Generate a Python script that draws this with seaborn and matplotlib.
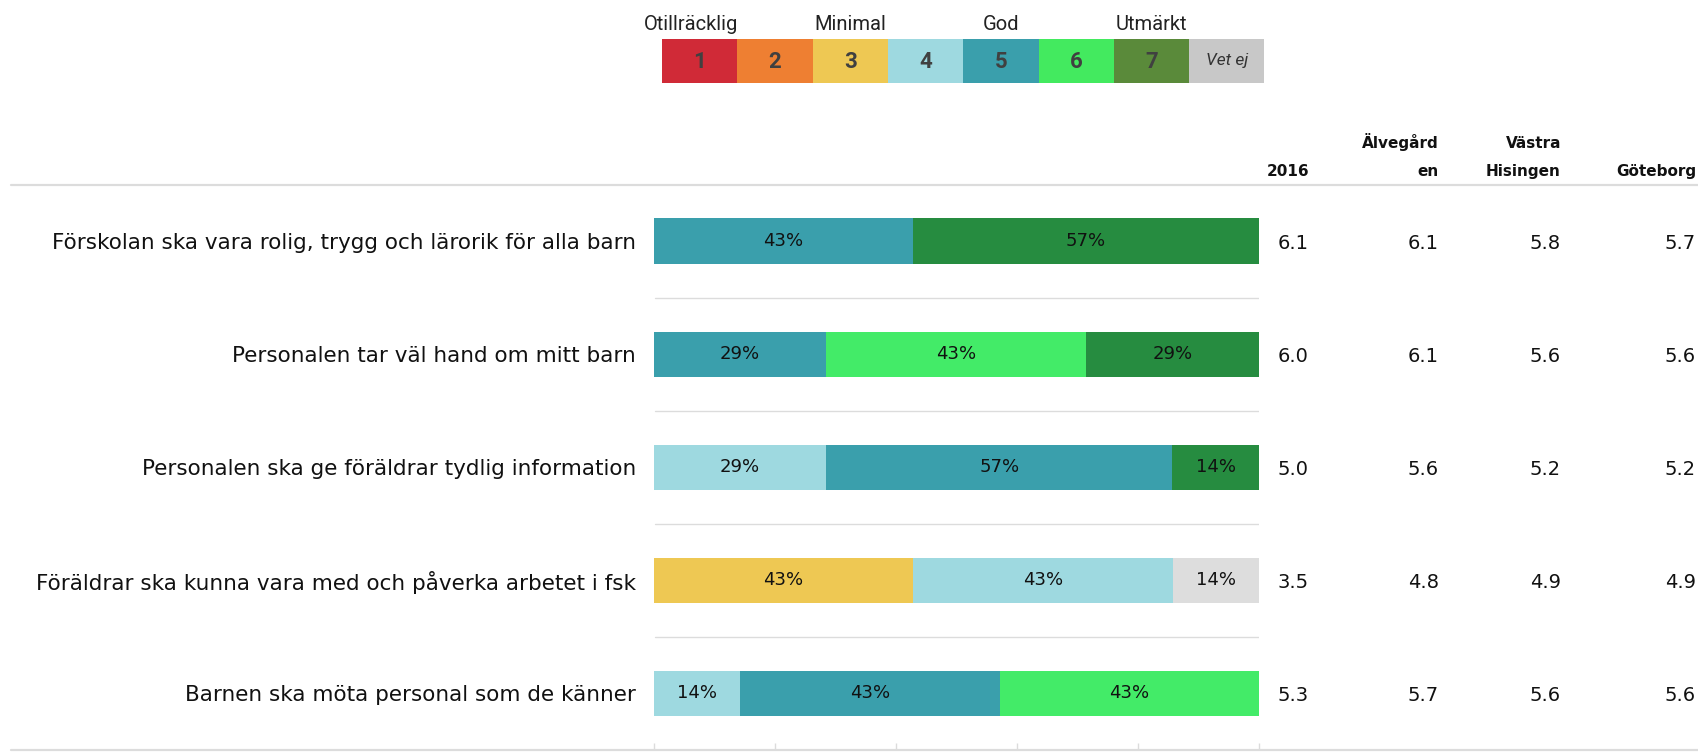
import matplotlib
matplotlib.use("Agg")
import matplotlib.pyplot as plt
import matplotlib.transforms as mtransforms
from matplotlib.lines import Line2D
from matplotlib import font_manager
import seaborn as sns
import pandas as pd

# ---------------- data ----------------
questions = [
    "Förskolan ska vara rolig, trygg och lärorik för alla barn",
    "Personalen tar väl hand om mitt barn",
    "Personalen ska ge föräldrar tydlig information",
    "Föräldrar ska kunna vara med och påverka arbetet i fsk",
    "Barnen ska möta personal som de känner",
]
levels = ["1", "2", "3", "4", "5", "6", "7", "Vet ej"]
scale_names = ["Otillräcklig", "Minimal", "God", "Utmärkt"]

pct_1 = [0, 0, 0, 0, 0]
pct_2 = [0, 0, 0, 0, 0]
pct_3 = [0, 0, 0, 42.86, 0]
pct_4 = [0, 0, 28.57, 42.86, 14.29]
pct_5 = [42.86, 28.57, 57.14, 0, 42.86]
pct_6 = [0, 42.86, 0, 0, 42.86]
pct_7 = [57.14, 28.57, 14.29, 0, 0]
pct_vetej = [0, 0, 0, 14.29, 0]

col_headers = [("", "2016"), ("Älvegård", "en"), ("Västra", "Hisingen"), ("", "Göteborg")]
score_2016 = [6.1, 6.0, 5.0, 3.5, 5.3]
score_alvegarden = [6.1, 6.1, 5.6, 4.8, 5.7]
score_vastra_hisingen = [5.8, 5.6, 5.2, 4.9, 5.6]
score_goteborg = [5.7, 5.6, 5.2, 4.9, 5.6]

# ---------------- styles ----------------
legend_colors = ["#D02A37", "#EE7F32", "#EEC853", "#9ED9E0", "#3A9FAC", "#43EA5F", "#5A8A3A", "#C8C8C8"]
bar_colors = ["#D02A37", "#EE7F32", "#EEC853", "#9ED9E0", "#3A9FAC", "#43EB68", "#268C40", "#DDDDDD"]
line_color = "#DCDCDC"

sns.set_theme(style="white")
plt.rcParams["font.family"] = ["DejaVu Sans"]
available = {f.name for f in font_manager.fontManager.ttflist}
narrow = "Liberation Sans Narrow" if "Liberation Sans Narrow" in available else "Roboto"

W, H = 1699, 752
fig = plt.figure(figsize=(W / 100, H / 100), dpi=100)

ax_left, ax_right = 653.5, 1259.0
ax_top, ax_bottom = 184.5, 750.0
ax = fig.add_axes([ax_left / W, 1 - ax_bottom / H, (ax_right - ax_left) / W, (ax_bottom - ax_top) / H])

# build stacked data
all_pcts = [pct_1, pct_2, pct_3, pct_4, pct_5, pct_6, pct_7, pct_vetej]
rows = []
for li, lev in enumerate(levels):
    for qi, q in enumerate(questions):
        cum = sum(all_pcts[k][qi] for k in range(li + 1))
        rows.append({"question": q, "level": lev, "pct": all_pcts[li][qi], "cum": cum})
df = pd.DataFrame(rows)

for li in reversed(range(len(levels))):
    sub = df[df["level"] == levels[li]]
    sns.barplot(data=sub, x="cum", y="question", order=questions, orient="h",
                color=bar_colors[li], width=0.4, linewidth=0, errorbar=None,
                saturation=1, ax=ax)

for _, r in df.iterrows():
    if r["pct"] > 0:
        qi = questions.index(r["question"])
        ax.text(r["cum"] - r["pct"] / 2, qi, f"{r['pct']:.0f}%", ha="center", va="center",
                fontsize=13, color="#111111")

ax.set_xlim(0, 100)
ax.set_ylim(len(questions) - 0.5, -0.5)
for y in [0.5, 1.5, 2.5, 3.5]:
    ax.axhline(y, xmin=0.003, xmax=1, color=line_color, lw=1.0)
ax.set_xticks([0, 20, 40, 60, 80, 100])
ax.set_xticklabels([])
ax.tick_params(axis="x", direction="in", length=5, width=1, color=line_color, bottom=True)
ax.tick_params(axis="y", length=0, pad=(ax_left - 636) * 0.72)
ax.set_yticks(range(len(questions)))
ax.set_yticklabels(questions, fontsize=15.5, color="#111111")
ax.set_xlabel("")
ax.set_ylabel("")
for s in ax.spines.values():
    s.set_visible(False)

# header and bottom lines across figure
for ypx in [184.5, 750.0]:
    fig.add_artist(Line2D([11 / W, 1.0], [1 - ypx / H, 1 - ypx / H], color=line_color, lw=1.6,
                          transform=fig.transFigure))

# score columns
col_right = [1309, 1439, 1561, 1696]
scores = [score_2016, score_alvegarden, score_vastra_hisingen, score_goteborg]
tr = mtransforms.blended_transform_factory(fig.transFigure, ax.transData)
for ci, (xr, col) in enumerate(zip(col_right, scores)):
    l1, l2 = col_headers[ci]
    if l1:
        fig.text(xr / W, 1 - 148 / H, l1, ha="right", va="baseline", fontsize=11,
                 fontweight="bold", color="#111111")
    fig.text(xr / W, 1 - 176 / H, l2, ha="right", va="baseline", fontsize=11,
             fontweight="bold", color="#111111")
    for qi, v in enumerate(col):
        fig.text(xr / W, qi, f"{v:.1f}", transform=tr, ha="right", va="center_baseline",
                 fontsize=14, color="#111111")

# legend strip
lx0, lx1, ly0, ly1 = 662, 1264.5, 39, 83
lax = fig.add_axes([lx0 / W, 1 - ly1 / H, (lx1 - lx0) / W, (ly1 - ly0) / H])
leg_df = pd.DataFrame({"level": levels, "v": [1] * len(levels)})
sns.barplot(data=leg_df, x="level", y="v", hue="level", order=levels, hue_order=levels,
            palette=legend_colors, width=1.0, linewidth=0, saturation=1, legend=False, ax=lax)
lax.set_xlim(-0.5, len(levels) - 0.5)
lax.set_ylim(0, 1)
lax.axis("off")
for i, lev in enumerate(levels):
    if lev == "Vet ej":
        lax.text(i, 0.5, lev, ha="center", va="center", fontsize=12.5, style="italic",
                 color="#333333", family=[narrow, "DejaVu Sans"])
    else:
        lax.text(i, 0.47, lev, ha="center", va="center", fontsize=16, fontweight="bold",
                 color="#404040", family=[narrow, "DejaVu Sans"])
ltr = mtransforms.blended_transform_factory(lax.transData, fig.transFigure)
for name, pos in zip(scale_names, [-0.12, 2, 4, 6]):
    fig.text(pos, 1 - 30 / H, name, transform=ltr, ha="center", va="baseline", fontsize=14.5,
             color="#222222", family=[narrow, "DejaVu Sans"])

fig.savefig("out.png", dpi=100, facecolor="white")
